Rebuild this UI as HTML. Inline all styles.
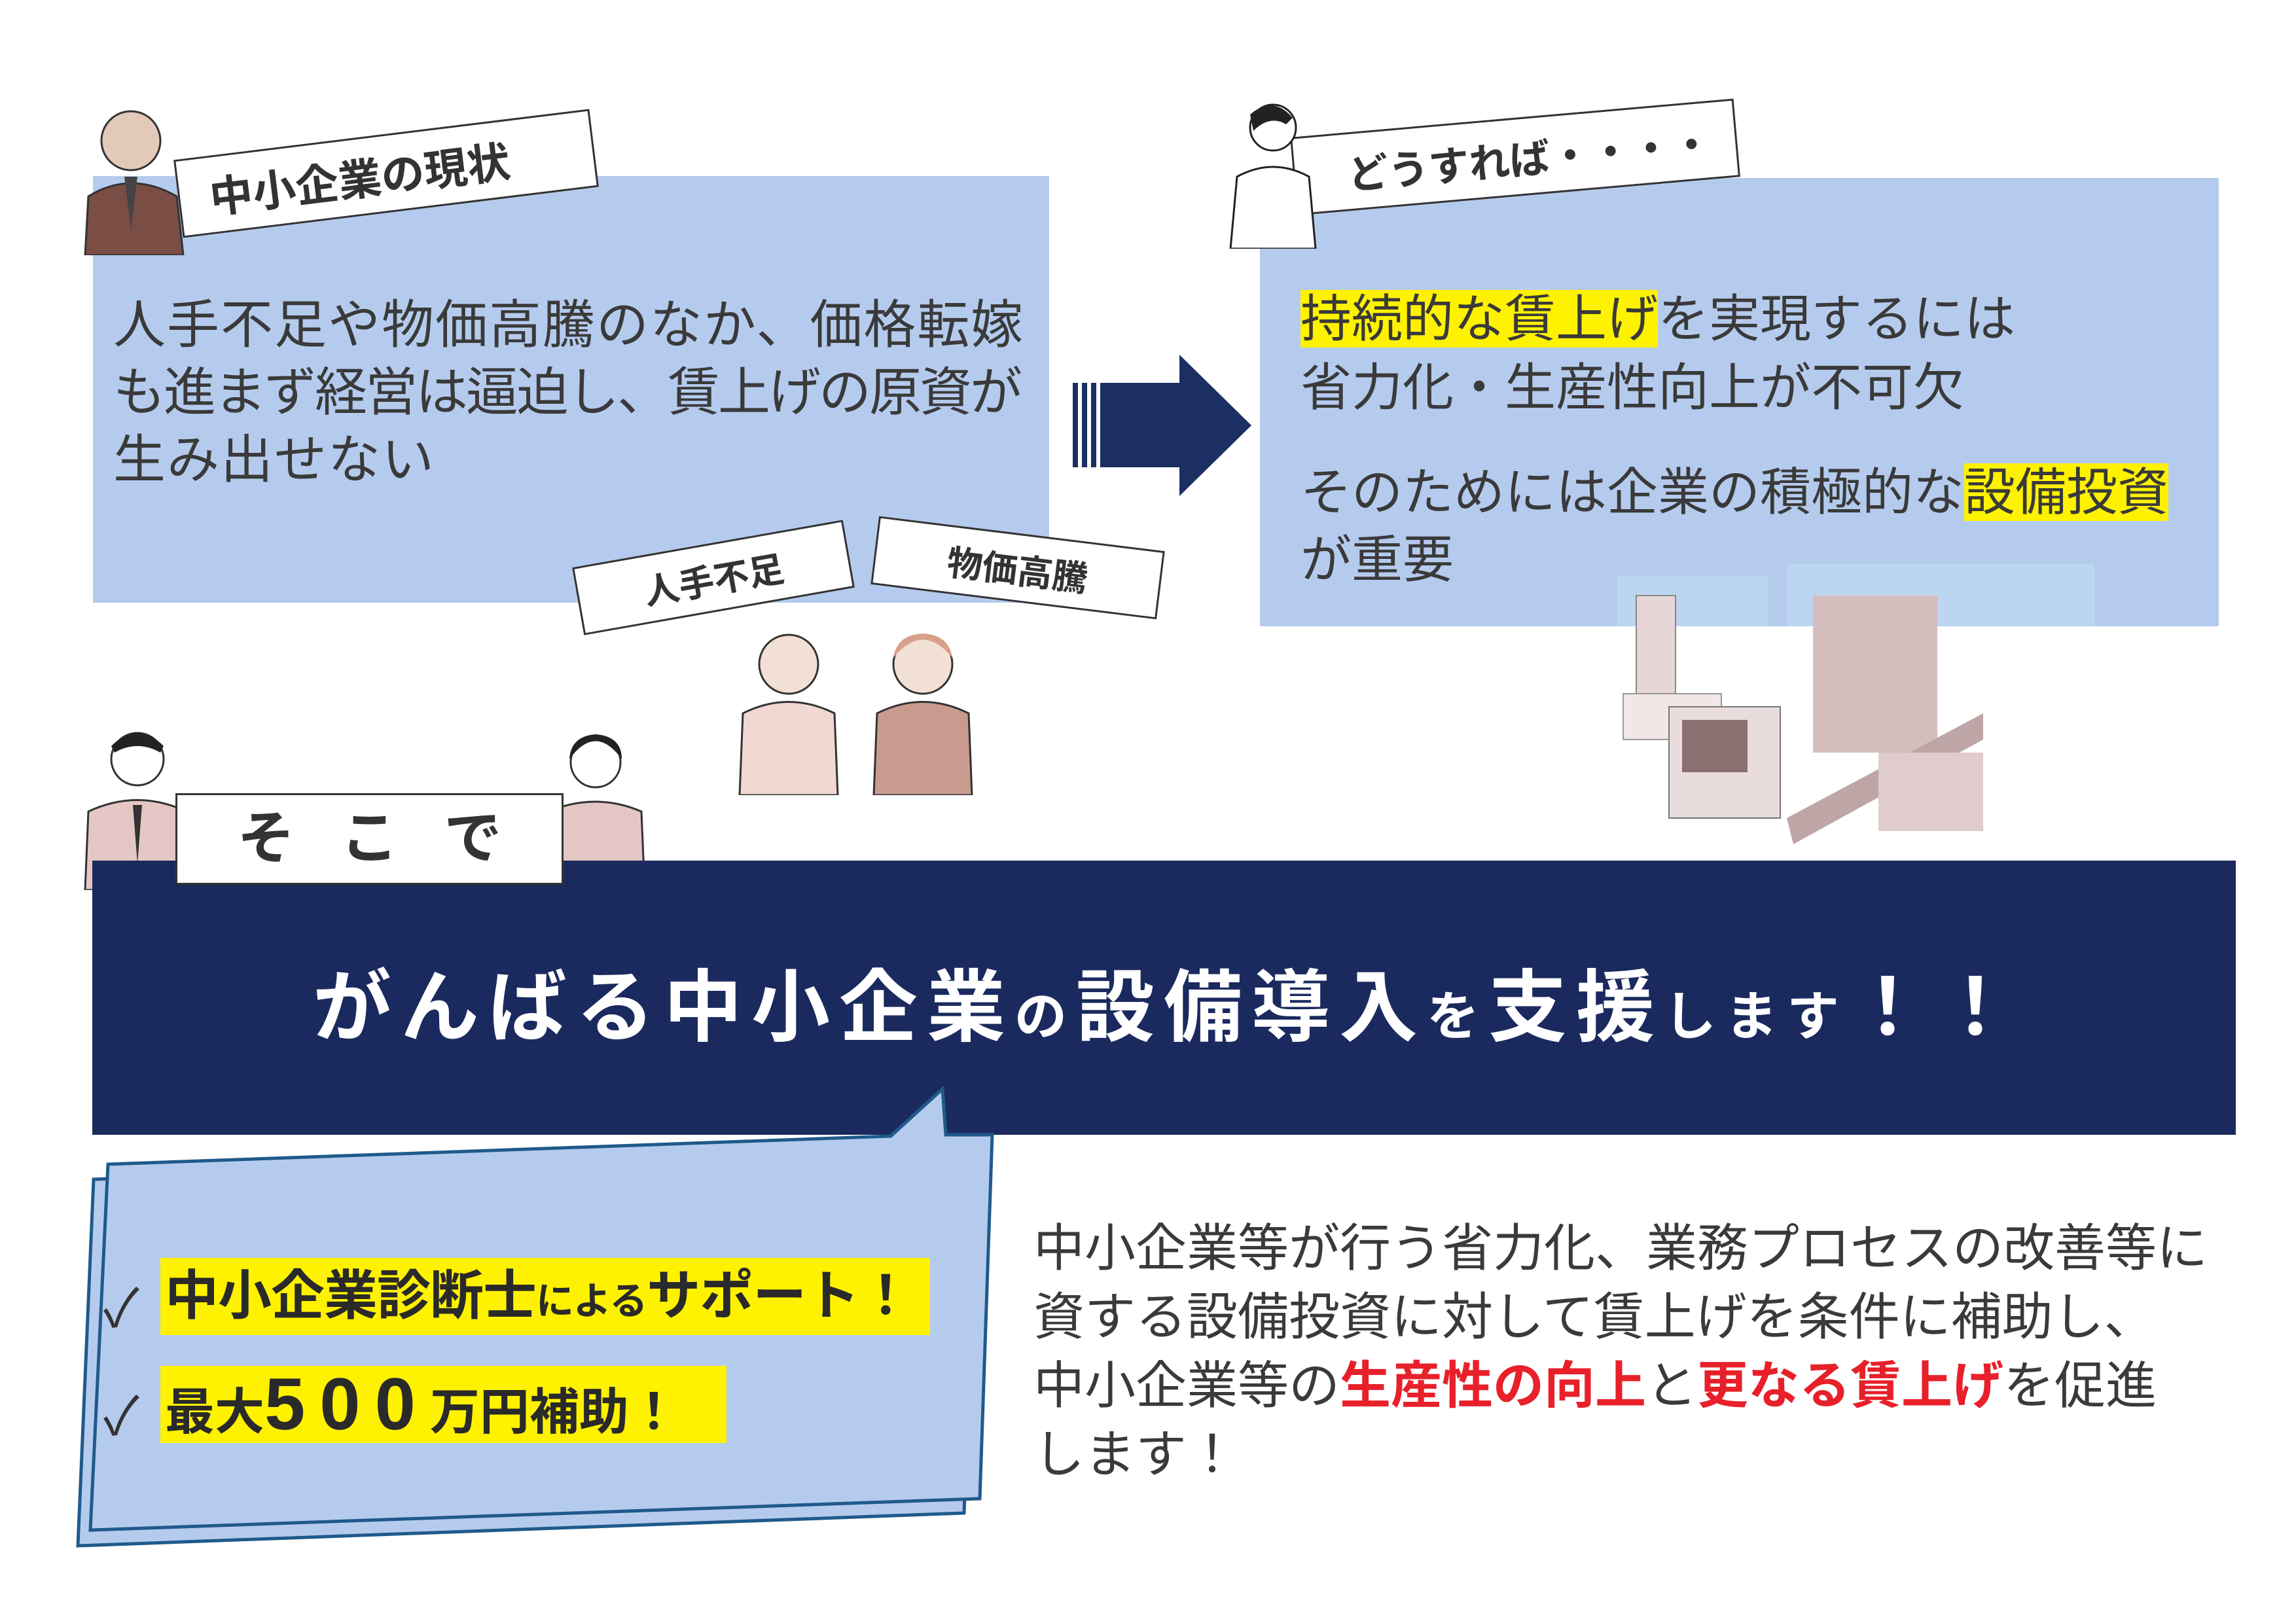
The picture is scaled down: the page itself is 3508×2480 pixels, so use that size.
<!DOCTYPE html>
<html><head><meta charset="utf-8">
<style>
*{margin:0;padding:0;box-sizing:border-box}
body{width:3508px;height:2480px;background:#fff;position:relative;overflow:hidden;font-family:"Liberation Sans","Noto Sans CJK JP",sans-serif;color:#333}
.abs{position:absolute}
.box{background:#b5cbee}
.t{position:absolute;font-size:80px;line-height:80px;white-space:nowrap;color:#3a3a3a}
.hl{background:#fff200}
.tag{position:absolute;background:#fff;border:3px solid #333;display:flex;align-items:center;justify-content:center;font-weight:bold;color:#333;white-space:nowrap}
</style></head><body>

<!-- left box -->
<div class="abs box" style="left:142px;top:269px;width:1461px;height:652px"></div>
<div class="t" style="left:173px;top:457px;letter-spacing:2px">人手不足や物価高騰のなか、価格転嫁</div>
<div class="t" style="left:173px;top:560px;letter-spacing:-3px">も進まず経営は逼迫し、賃上げの原資が</div>
<div class="t" style="left:173px;top:663px;letter-spacing:2px">生み出せない</div>

<!-- left label -->
<div class="tag" style="left:270px;top:205px;width:640px;height:120px;transform:rotate(-7deg);font-size:66px;justify-content:flex-start;padding-left:45px">中小企業の現状</div>
<svg class="abs" style="left:120px;top:150px" width="170" height="240">
<circle cx="80" cy="65" r="45" fill="#e3c9b8" stroke="#333" stroke-width="3"/>
<path d="M10 240 L15 150 Q80 110 150 150 L160 240 Z" fill="#7a4e44" stroke="#333" stroke-width="3"/>
<path d="M70 120 L80 200 L90 120Z" fill="#444"/>
</svg>

<!-- arrow -->
<svg class="abs" style="left:1639px;top:542px" width="275" height="216">
<rect x="0" y="43" width="8" height="129" fill="#1c2f63"/>
<rect x="14" y="43" width="8" height="129" fill="#1c2f63"/>
<rect x="28" y="43" width="8" height="129" fill="#1c2f63"/>
<polygon points="42,43 163,43 163,0 273,108 163,216 163,172 42,172" fill="#1c2f63"/>
</svg>

<!-- right box -->
<div class="abs box" style="left:1925px;top:272px;width:1465px;height:685px"></div>
<div class="abs" style="left:2471px;top:880px;width:230px;height:77px;background:#bcd6f2"></div>
<div class="abs" style="left:2730px;top:862px;width:470px;height:95px;background:#bcd6f2"></div>
<div class="t" style="left:1987px;top:447px;font-size:78px"><span class="hl">持続的な賃上げ</span>を実現するには</div>
<div class="t" style="left:1987px;top:552px;font-size:78px">省力化・生産性向上が不可欠</div>
<div class="t" style="left:1987px;top:712px;font-size:78px">そのためには企業の積極的な<span class="hl">設備投資</span></div>
<div class="t" style="left:1987px;top:815px;font-size:78px">が重要</div>

<div class="tag" style="left:1975px;top:180px;width:680px;height:120px;transform:rotate(-5deg);font-size:62px;justify-content:flex-start;padding-left:80px">どうすれば・・・・</div>
<svg class="abs" style="left:1870px;top:150px" width="160" height="230">
<circle cx="75" cy="45" r="35" fill="#fff" stroke="#222" stroke-width="3"/>
<path d="M40 25 Q75 -5 105 30 L95 40 Q70 25 45 50Z" fill="#222"/>
<path d="M10 230 L20 120 Q75 90 130 120 L140 230Z" fill="#fff" stroke="#222" stroke-width="3"/>
</svg>

<!-- tags -->
<div class="tag" style="left:880px;top:830px;width:420px;height:105px;transform:rotate(-10deg);font-size:54px">人手不足</div>
<div class="tag" style="left:1335px;top:815px;width:440px;height:105px;transform:rotate(7deg);font-size:54px">物価高騰</div>
<svg class="abs" style="left:1080px;top:940px" width="480" height="275">
<circle cx="125" cy="75" r="45" fill="#f3e0d5" stroke="#333" stroke-width="3"/>
<path d="M50 275 L55 150 Q125 115 195 150 L200 275Z" fill="#f1d8d2" stroke="#333" stroke-width="3"/>
<circle cx="330" cy="75" r="45" fill="#f3e0d5" stroke="#333" stroke-width="3"/>
<path d="M285 65 Q330 10 375 65 Q370 30 330 28 Q290 30 285 65Z" fill="#d9a089"/>
<path d="M255 275 L260 150 Q330 115 400 150 L405 275Z" fill="#c99b8f" stroke="#333" stroke-width="3"/>
</svg>

<!-- machines -->
<svg class="abs" style="left:2470px;top:890px" width="720" height="400">
<rect x="30" y="20" width="60" height="200" fill="#e6d6d6" stroke="#888" stroke-width="2"/>
<rect x="10" y="170" width="150" height="70" fill="#f2e6e6" stroke="#999" stroke-width="2"/>
<rect x="80" y="190" width="170" height="170" fill="#e9dcdc" stroke="#777" stroke-width="2"/>
<rect x="100" y="210" width="100" height="80" fill="#8a7070"/>
<rect x="300" y="20" width="190" height="240" fill="#d3bdbd"/>
<polygon points="260,360 560,200 560,240 270,400" fill="#bfa6a6"/>
<rect x="400" y="260" width="160" height="120" fill="#e0cccc"/>
</svg>

<!-- そこで figures -->
<svg class="abs" style="left:125px;top:1100px" width="200" height="260">
<circle cx="85" cy="60" r="40" fill="#fff" stroke="#333" stroke-width="3"/>
<path d="M45 40 Q85 0 125 40 L120 50 Q85 30 50 50Z" fill="#222"/>
<path d="M5 260 L10 140 Q85 105 160 140 L165 260Z" fill="#e4c7c4" stroke="#333" stroke-width="3"/>
<path d="M78 130 L85 220 L92 130Z" fill="#333"/>
</svg>
<svg class="abs" style="left:820px;top:1100px" width="170" height="260">
<circle cx="90" cy="65" r="38" fill="#fff" stroke="#333" stroke-width="3"/>
<path d="M50 60 Q90 5 130 60 Q130 25 90 22 Q52 25 50 60Z" fill="#222"/>
<path d="M10 260 L18 140 Q90 110 160 140 L165 260Z" fill="#e4c7c4" stroke="#333" stroke-width="3"/>
</svg>

<!-- banner -->
<div class="abs" style="left:141px;top:1315px;width:3275px;height:419px;background:#1b2a5e"></div>
<div class="tag" style="left:268px;top:1212px;width:593px;height:140px;border:3px solid #333;font-size:88px;letter-spacing:70px;padding-left:70px;line-height:88px;align-items:flex-start;padding-top:22px;z-index:2">そこで</div>
<div class="abs" style="left:478px;top:1470px;color:#fff;font-weight:bold;white-space:nowrap;line-height:140px;font-size:120px;letter-spacing:14px">がんばる中小企業<span style="font-size:80px">の</span>設備導入<span style="font-size:80px">を</span>支援<span style="font-size:80px">します</span>！！</div>

<!-- speech bubble -->
<svg class="abs" style="left:0;top:1640px" width="1600" height="760">
<polygon points="143,162 1492,113 1473,672 119,722" fill="#b5cbee" stroke="#1f5a8a" stroke-width="5"/>
<polygon points="165,139 1361,96 1440,24 1445,94 1516,94 1497,650 138,698" fill="#b5cbee" stroke="#1f5a8a" stroke-width="5"/>
</svg>
<div class="abs hl" style="left:245px;top:1922px;width:1176px;height:118px"></div>
<div class="abs hl" style="left:245px;top:2087px;width:865px;height:118px"></div>
<div class="abs" style="left:158px;top:1935px;font-size:80px;color:#333">✓</div>
<div class="abs" style="left:158px;top:2100px;font-size:80px;color:#333">✓</div>
<div class="abs" style="left:252px;top:1931px;font-size:82px;font-weight:bold;white-space:nowrap;line-height:100px;color:#2a2a2a;letter-spacing:-1px">中小企業診断士<span style="font-size:58px">による</span>サポート！</div>
<div class="abs" style="left:252px;top:2094px;font-size:76px;font-weight:bold;white-space:nowrap;line-height:104px;color:#2a2a2a">最大<span style="font-size:112px;letter-spacing:22px">500</span>万円補助！</div>

<!-- right paragraph -->
<div class="abs" style="left:1579px;top:1855px;font-size:78px;line-height:105px;white-space:nowrap;color:#3a3a3a">中小企業等が行う省力化、業務プロセスの改善等に<br>資する設備投資に対して賃上げを条件に補助し、<br>中小企業等の<b style="color:#e8202a">生産性の向上</b>と<b style="color:#e8202a">更なる賃上げ</b>を促進<br>します！</div>

</body></html>
